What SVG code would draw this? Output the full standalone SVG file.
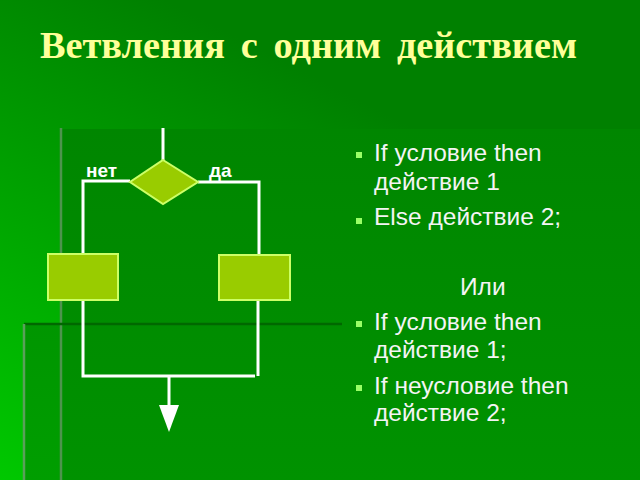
<svg xmlns="http://www.w3.org/2000/svg" width="640" height="480" viewBox="0 0 640 480">
  <defs>
    <linearGradient id="bg" x1="0" y1="1" x2="0.55" y2="0.2">
      <stop offset="0" stop-color="#00c800"/>
      <stop offset="1" stop-color="#008000"/>
    </linearGradient>
    <linearGradient id="panel" x1="0" y1="0" x2="0" y2="1">
      <stop offset="0" stop-color="#008600"/>
      <stop offset="1" stop-color="#009200"/>
    </linearGradient>
    <linearGradient id="panel2" x1="0" y1="0" x2="0" y2="1">
      <stop offset="0" stop-color="#009600"/>
      <stop offset="1" stop-color="#009e00"/>
    </linearGradient>
    <linearGradient id="hline" x1="0" y1="0" x2="1" y2="0">
      <stop offset="0" stop-color="#006400"/>
      <stop offset="0.85" stop-color="#006800"/>
      <stop offset="1" stop-color="#008000" stop-opacity="0"/>
    </linearGradient>
    <style>
      .title { font-family: "Liberation Serif", "Times New Roman", serif; font-weight: bold; font-size: 37px; word-spacing: 6px; fill: #ffff99; }
      .lbl { font-family: "Liberation Sans", Arial, sans-serif; font-weight: bold; font-size: 19px; fill: #ffffff; }
      .txt { font-family: "Liberation Sans", Arial, sans-serif; font-size: 24.5px; fill: #f4f4f4; }
      .bullet { fill: #99ff66; }
      .shape { fill: #99cc00; stroke: #ccff66; stroke-width: 2; }
      .wire { fill: none; stroke: #ffffff; stroke-width: 3; }
      .head { fill: #ffffff; }
      .deco { stroke-width: 2.5; }
    </style>
  </defs>

  <!-- background -->
  <rect x="0" y="0" width="640" height="480" fill="url(#bg)"/>
  <rect x="61" y="129" width="579" height="351" fill="url(#panel)"/>
  <rect x="24" y="324" width="37" height="156" fill="url(#panel2)"/>
  <line class="deco" x1="61" y1="129" x2="575" y2="129" stroke="url(#hline)"/>
  <line class="deco" x1="61" y1="128" x2="61" y2="480" stroke="#4e944e"/>
  <line class="deco" x1="24" y1="324" x2="342" y2="324" stroke="#006800"/>
  <line class="deco" x1="24" y1="324" x2="24" y2="480" stroke="#5aa05a"/>

  <!-- title -->
  <text class="title" x="40" y="58" textLength="537" lengthAdjust="spacingAndGlyphs">Ветвления с одним действием</text>

  <!-- connectors -->
  <g id="connectors">
    <line class="wire" x1="163" y1="128" x2="163" y2="160"/>
    <polyline class="wire" points="130,181 83,181 83,254"/>
    <polyline class="wire" points="198,182 259,182 259,255"/>
    <polyline class="wire" points="83,300 83,376 255,376"/>
    <line class="wire" x1="258" y1="300" x2="258" y2="376"/>
    <line class="wire" x1="169" y1="376" x2="169" y2="406"/>
    <polygon class="head" points="159,405 179,405 169,432"/>
  </g>

  <!-- nodes -->
  <g id="decision">
    <polygon class="shape" points="163,160 198,182 163,204 130,182"/>
  </g>
  <g id="action-no">
    <rect class="shape" x="48" y="254" width="70" height="46"/>
  </g>
  <g id="action-yes">
    <rect class="shape" x="219" y="255" width="71" height="45"/>
  </g>
  <g id="labels">
    <text class="lbl" x="86" y="177">нет</text>
    <text class="lbl" x="209" y="177">да</text>
  </g>

  <!-- right text -->
  <g id="text-block">
    <rect class="bullet" x="356" y="152" width="6" height="6"/>
    <text class="txt" x="374" y="161">If условие then</text>
    <text class="txt" x="374" y="190">действие 1</text>
    <rect class="bullet" x="356" y="218" width="6" height="6"/>
    <text class="txt" x="374" y="225">Else действие 2;</text>
    <text class="txt" x="460" y="295">Или</text>
    <rect class="bullet" x="356" y="321" width="6" height="6"/>
    <text class="txt" x="374" y="330">If условие then</text>
    <text class="txt" x="374" y="358">действие 1;</text>
    <rect class="bullet" x="356" y="385" width="6" height="6"/>
    <text class="txt" x="374" y="394">If неусловие then</text>
    <text class="txt" x="374" y="421">действие 2;</text>
  </g>
</svg>
